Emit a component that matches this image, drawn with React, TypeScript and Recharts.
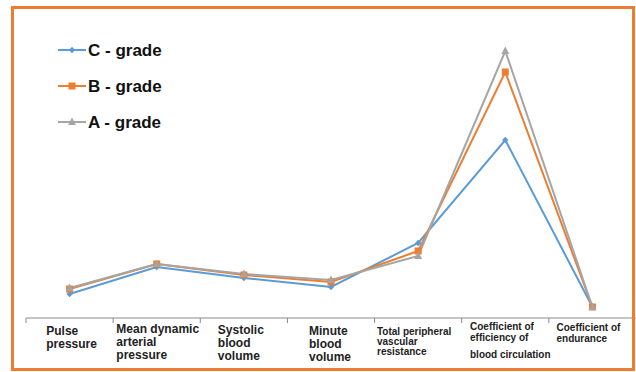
import { LineChart, Line, XAxis, YAxis, Legend } from "recharts";

const CATEGORY_LINES = [
  ["Pulse", "pressure"],
  ["Mean dynamic", "arterial", "pressure"],
  ["Systolic", "blood", "volume"],
  ["Minute", "blood", "volume"],
  ["Total peripheral", "vascular", "resistance"],
  ["Coefficient of", "efficiency of", "", "blood circulation"],
  ["Coefficient of", "endurance"],
];

const C_GRADE = [24, 51, 40, 31, 75, 178, 11];
const B_GRADE = [29, 54, 43, 36, 67, 246, 11];
const A_GRADE = [30, 54, 44, 38, 62, 267, 11];

const data = CATEGORY_LINES.map((lines, i) => ({
  name: lines.filter(Boolean).join(" "),
  c: C_GRADE[i],
  b: B_GRADE[i],
  a: A_GRADE[i],
}));

const FONT = '"Liberation Sans", Arial, sans-serif';
const W = 636;
const H = 372;
const M_LEFT = 26;
const M_RIGHT = 0;
const BAND = (W - M_LEFT - M_RIGHT) / CATEGORY_LINES.length;
const AXIS_COLOR = "#8a8a8a";

// label look per category: font size, line height, first baseline below axis, x nudge
const TICK_STYLE = [
  { size: 12, lh: 12.5, top: 17, dx: 2 },
  { size: 12, lh: 13, top: 15, dx: 1 },
  { size: 12, lh: 13, top: 16, dx: -3 },
  { size: 12, lh: 13, top: 17, dx: -1 },
  { size: 10, lh: 10, top: 17, dx: -4 },
  { size: 10, lh: 11, top: 12, dx: 5 },
  { size: 10, lh: 11, top: 13, dx: -4 },
];

const SERIES = [
  { key: "c", name: "C - grade", color: "#5B9BD5", shape: "diamond" },
  { key: "b", name: "B - grade", color: "#ED7D31", shape: "square" },
  { key: "a", name: "A - grade", color: "#A5A5A5", shape: "triangle" },
];

let ctx: CanvasRenderingContext2D | null = null;
function textWidth(s: string, size: number) {
  if (!ctx) ctx = document.createElement("canvas").getContext("2d");
  if (!ctx) return s.length * size * 0.55;
  ctx.font = `bold ${size}px ${FONT}`;
  return ctx.measureText(s).width;
}

function Marker({ cx, cy, shape, color }: any) {
  if (cx == null || cy == null) return null;
  if (shape === "diamond") {
    const r = 3.2;
    return <path d={`M${cx},${cy - r}L${cx + r},${cy}L${cx},${cy + r}L${cx - r},${cy}Z`} fill={color} />;
  }
  if (shape === "square") {
    return <rect x={cx - 3.5} y={cy - 3.5} width={7} height={7} fill={color} />;
  }
  return <path d={`M${cx},${cy - 4.5}L${cx + 4},${cy + 3}L${cx - 4},${cy + 3}Z`} fill={color} />;
}

function CategoryTick(props: any) {
  const { x, y, payload } = props;
  const idx = props.index ?? payload.index;
  const lines = CATEGORY_LINES[idx];
  const st = TICK_STYLE[idx];
  const widest = Math.max(...lines.map((l) => textWidth(l, st.size)));
  const left = x - widest / 2 + st.dx;
  let yy = y + st.top;
  const rows = lines.map((l, i) => {
    if (i > 0) yy += l === "" ? st.lh * 0.5 : st.lh;
    if (l === "") return null;
    return (
      <text key={i} x={left} y={yy} fontSize={st.size} fontWeight="bold" fontFamily={FONT} fill="#222">
        {l}
      </text>
    );
  });
  return (
    <g>
      <line x1={x - BAND / 2} x2={x - BAND / 2} y1={y} y2={y + 5} stroke={AXIS_COLOR} />
      {rows}
    </g>
  );
}

function GradeLegend() {
  return (
    <svg width={130} height={110}>
      {SERIES.map((s, i) => {
        const cy = 18 + i * 36;
        return (
          <g key={s.key}>
            <line x1={2} x2={30} y1={cy} y2={cy} stroke={s.color} strokeWidth={2} />
            <Marker cx={16} cy={cy} shape={s.shape} color={s.color} />
            <text x={32} y={cy + 6} fontSize={17} fontWeight="bold" fontFamily={FONT} fill="#111">
              {s.name}
            </text>
          </g>
        );
      })}
    </svg>
  );
}

export default function App() {
  return (
    <div style={{ position: "absolute", left: 0, top: 0, width: W, height: H, background: "#fff" }}>
      <LineChart width={W} height={H} data={data} margin={{ top: 38, right: M_RIGHT, bottom: 0, left: M_LEFT }}>
        <XAxis
          dataKey="name"
          height={54}
          interval={0}
          padding={{ left: BAND / 2, right: BAND / 2 }}
          tickLine={false}
          tickSize={0}
          tickMargin={0}
          axisLine={{ stroke: AXIS_COLOR }}
          tick={<CategoryTick />}
        />
        <YAxis hide domain={[0, 280]} />
        <Legend
          layout="vertical"
          align="center"
          verticalAlign="middle"
          wrapperStyle={{ left: 56, top: 32, width: 130, height: 110 }}
          content={<GradeLegend />}
        />
        {SERIES.map((s) => (
          <Line
            key={s.key}
            dataKey={s.key}
            name={s.name}
            stroke={s.color}
            strokeWidth={2}
            isAnimationActive={false}
            dot={(p: any) => <Marker key={`${s.key}-${p.index}`} cx={p.cx} cy={p.cy} shape={s.shape} color={s.color} />}
            activeDot={false}
          />
        ))}
      </LineChart>
      <div
        style={{
          position: "absolute",
          left: 11,
          top: 6,
          width: 624,
          height: 365,
          border: "3px solid #ED7D31",
          boxSizing: "border-box",
          pointerEvents: "none",
        }}
      />
    </div>
  );
}
